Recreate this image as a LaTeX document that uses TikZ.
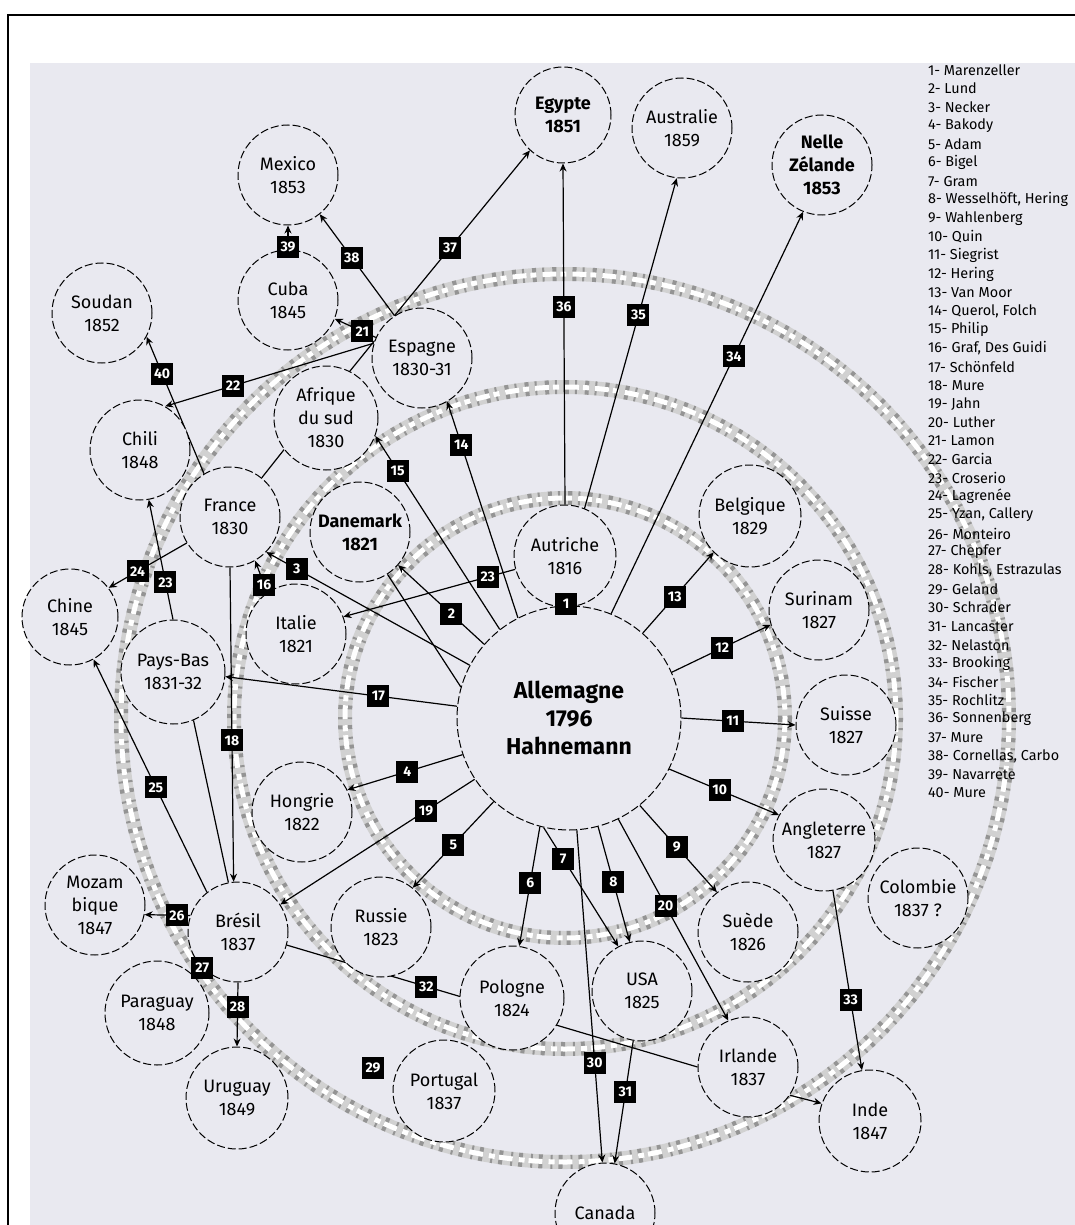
\documentclass[tikz,border=0pt]{standalone}
\usepackage{fontspec}
\setmainfont{Fira Sans}
\usetikzlibrary{arrows.meta, backgrounds}
\definecolor{paper}{RGB}{233,233,240}
\newcommand{\paysfont}{\fontsize{9}{11.5}\selectfont}
% #1 style, #2 from, #3 to, #4 number, #5 pos
\newcommand{\lien}[5][arrow]{%
  \begin{pgfonlayer}{background}
    \draw[#1] (#2) -- (#3);
  \end{pgfonlayer}
  \path (#2) -- (#3) node[num, pos=#5] {#4};}

\begin{document}
\begin{tikzpicture}[
    x=0.5pt, y=-0.5pt,
    pays/.style={circle, draw, line width=0.5pt, dash pattern=on 4pt off 1.5pt, fill=paper,
      minimum size=50pt, inner sep=-4pt, align=center, font=\paysfont},
    gras/.style={font=\paysfont\bfseries},
    num/.style={fill=black, text=white, font=\fontsize{7}{7}\selectfont\bfseries,
      minimum size=11pt, inner sep=0pt},
    arrow/.style={-{Stealth[length=4pt, width=3.5pt]}, line width=0.6pt},
    trait/.style={line width=0.6pt},
    legende/.style={font=\fontsize{7.2}{8}\selectfont, anchor=west}
  ]
  \useasboundingbox (0,0) rectangle (1075,1225);

  % sheet and rings
  \begin{pgfonlayer}{background}
    \fill[white] (0,0) rectangle (1075,1225);
    \draw[line width=1pt] (8,15) rectangle (1100,1250);
    \fill[paper] (30,63) rectangle (1100,1250);
    \foreach \r in {220,331,444} {
      \draw[line width=7pt, black!18] (565,718) circle[radius=\r];
      \draw[line width=7pt, black!42, dash pattern=on 2pt off 3pt on 1pt off 4pt] (565,718) circle[radius=\r];
      \draw[line width=2.5pt, white, dash pattern=on 7pt off 2pt on 3pt off 3pt] (565,718) circle[radius=\r];
    }
  \end{pgfonlayer}

  % countries
  \node[pays, minimum size=112pt, font=\fontsize{11.5}{14}\selectfont\bfseries] (allemagne) at (569,718) {Allemagne\\1796\\Hahnemann};
  \node[pays, gras, minimum size=48pt] (egypte) at (563,115) {Egypte\\1851};
  \node[pays] (australie) at (682,128) {Australie\\1859};
  \node[pays, gras] (zelande) at (822,165) {Nelle\\Zélande\\1853};
  \node[pays] (mexico) at (288,175) {Mexico\\1853};
  \node[pays] (cuba) at (288,300) {Cuba\\1845};
  \node[pays] (soudan) at (102,313) {Soudan\\1852};
  \node[pays] (espagne) at (422,358) {Espagne\\1830-31};
  \node[pays, minimum size=52pt] (afrique) at (326,418) {Afrique\\du sud\\1830};
  \node[pays] (chili) at (140,450) {Chili\\1848};
  \node[pays] (france) at (230,517) {France\\1830};
  \node[pays, gras] (danemark) at (360,532) {Danemark\\1821};
  \node[pays, minimum size=48pt] (chine) at (70,617) {Chine\\1845};
  \node[pays, minimum size=52pt] (paysbas) at (173,672) {Pays-Bas\\1831-32};
  \node[pays] (italie) at (296,634) {Italie\\1821};
  \node[pays, minimum size=51pt] (autriche) at (565,556) {Autriche\\1816};
  \node[pays, minimum size=51pt] (belgique) at (750,516) {Belgique\\1829};
  \node[pays] (surinam) at (819,610) {Surinam\\1827};
  \node[pays] (suisse) at (846,725) {Suisse\\1827};
  \node[pays, minimum size=51pt] (angleterre) at (824,840) {Angleterre\\1827};
  \node[pays] (colombie) at (918,898) {Colombie\\1837 ?};
  \node[pays] (hongrie) at (302,812) {Hongrie\\1822};
  \node[pays] (mozambique) at (95,905) {Mozam\\bique\\1847};
  \node[pays] (bresil) at (238,932) {Brésil\\1837};
  \node[pays] (russie) at (381,927) {Russie\\1823};
  \node[pays, minimum size=52pt] (paraguay) at (157,1013) {Paraguay\\1848};
  \node[pays, minimum size=51pt] (uruguay) at (237,1098) {Uruguay\\1849};
  \node[pays, minimum size=51pt] (portugal) at (444,1091) {Portugal\\1837};
  \node[pays, minimum size=52pt] (pologne) at (512,998) {Pologne\\1824};
  \node[pays] (usa) at (642,991) {USA\\1825};
  \node[pays] (suede) at (748,932) {Suède\\1826};
  \node[pays] (irlande) at (748,1067) {Irlande\\1837};
  \node[pays, minimum size=51pt] (inde) at (870,1121) {Inde\\1847};
  \node[pays] (canada) at (605,1213) {Canada};

  % numbered links
  \node[num] (n1) at (566,604) {1};
  \lien{allemagne.139}{danemark.319}{2}{0.38}
  \lien{allemagne.152}{france.316}{3}{0.85}
  \lien{allemagne.199}{hongrie.26}{4}{0.48}
  \lien{allemagne.228}{russie.51}{5}{0.5}
  \lien{allemagne.255}{pologne.82}{6}{0.47}
  \lien{allemagne.257}{usa.118}{7}{0.26}
  \lien{allemagne.285}{usa.104}{8}{0.48}
  \lien{allemagne.309}{suede.128}{9}{0.48}
  \lien{allemagne.333}{angleterre.151}{10}{0.46}
  \lien{allemagne.0}{suisse.180}{11}{0.45}
  \lien{allemagne.24}{surinam.197}{12}{0.51}
  \lien{allemagne.49}{belgique.225}{13}{0.45}
  \lien{allemagne.117}{espagne.300}{14}{0.8}
  \lien{allemagne.128}{afrique.340}{15}{0.82}
  \lien{italie.125}{france.300}{16}{0.25}
  \lien{allemagne.174}{paysbas.355}{17}{0.34}
  \lien{france.270}{bresil.95}{18}{0.55}
  \lien{allemagne.213}{bresil.33}{19}{0.25}
  \lien{allemagne.296}{irlande.113}{20}{0.43}
  \lien{espagne.156}{cuba.338}{21}{0.33}
  \lien{espagne.163}{chili.60}{22}{0.675}
  \lien{autriche.195}{italie.20}{23}{0.16}
  \lien{paysbas.90}{chili.280}{23}{0.31}
  \lien{france.211}{chine.37}{24}{0.63}
  \lien{bresil.128}{chine.299}{25}{0.45}
  \lien{bresil.161}{mozambique.349}{26}{0.29}
  \lien{bresil.225}{paraguay.49}{27}{0}
  \lien{bresil.270}{uruguay.90}{28}{0.38}
  \node[num] (n29) at (373,1068) {29};
  \lien{allemagne.274}{canada.93}{30}{0.7}
  \lien{usa.260}{canada.79}{31}{0.42}
  \lien[trait]{bresil.345}{irlande.180}{32}{0.34}
  \lien{angleterre.280}{inde.99}{33}{0.61}
  \lien{allemagne.68}{zelande.248}{34}{0.64}
  \lien{allemagne.96}{australie.264}{35}{0.68}
  \lien{autriche.90}{egypte.270}{36}{0.58}
  \lien{espagne.123}{egypte.227}{37}{0.41}
  \lien{espagne.123}{mexico.309}{38}{0.57}
  \lien{cuba.90}{mexico.270}{39}{0.1}
  \lien{france.121}{soudan.332}{40}{0.73}

  % unnumbered links
  \begin{pgfonlayer}{background}
    \draw[trait] (france.51) -- (afrique.217);
    \draw[trait] (afrique.63) -- (espagne.160);
    \draw[trait] (danemark.303) -- (allemagne.164);
    \draw[trait] (paysbas.293) -- (bresil.101);
    \draw[arrow] (irlande.326) -- (inde.160);
  \end{pgfonlayer}

  % legend
  \foreach \who [count=\i] in {Marenzeller, Lund, Necker, Bakody, Adam, Bigel, Gram,
      {Wesselhöft, Hering}, Wahlenberg, Quin, Siegrist, Hering, Van Moor, {Querol, Folch},
      Philip, {Graf, Des Guidi}, Schönfeld, Mure, Jahn, Luther, Lamon, Garcia, Croserio,
      Lagrenée, {Yzan, Callery}, Monteiro, Chepfer, {Kohls, Estrazulas}, Geland, Schrader,
      Lancaster, Nelaston, Brooking, Fischer, Rochlitz, Sonnenberg, Mure,
      {Cornellas, Carbo}, Navarrete, Mure}
    \node[legende] (leg\i) at (921,{70+18.54*(\i-1)}) {\i- \who};
\end{tikzpicture}
\end{document}
